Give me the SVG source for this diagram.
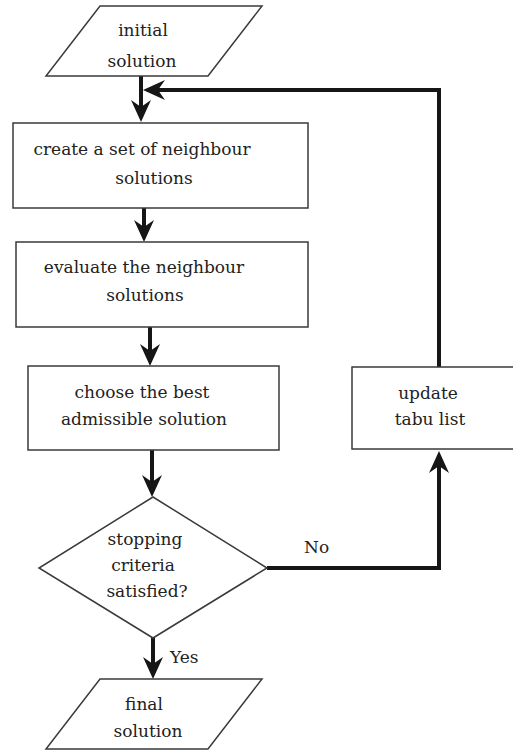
<svg xmlns="http://www.w3.org/2000/svg" width="513" height="752" viewBox="0 0 513 752">
<style>
.node{fill:#fff;stroke:#3a3a3a;stroke-width:1.5}
.lbl{font-family:'DejaVu Serif',serif;font-size:17px;fill:#222;text-anchor:middle}
.lbl2{font-family:'DejaVu Serif',serif;font-size:17px;fill:#222}
.conn{fill:none;stroke:#161616;stroke-width:4}
</style>
<defs>
<marker id="ah" viewBox="0 0 22 20" refX="10" refY="10" markerWidth="22" markerHeight="20" markerUnits="userSpaceOnUse" orient="auto">
<path d="M0,0 L22,10 L0,20 L7,10 z" fill="#161616"/>
</marker>
</defs>
<rect width="513" height="752" fill="#fff"/>
<g id="connectors">
<path class="conn" d="M141,76 V110" marker-end="url(#ah)"/>
<path class="conn" d="M439,367 V90 H155" marker-end="url(#ah)"/>
<path class="conn" d="M144,208 V230" marker-end="url(#ah)"/>
<path class="conn" d="M150,327 V354" marker-end="url(#ah)"/>
<path class="conn" d="M152,450 V485" marker-end="url(#ah)"/>
<path class="conn" d="M267,568 H439 V463" marker-end="url(#ah)"/>
<path class="conn" d="M153,638 V667" marker-end="url(#ah)"/>
</g>
<g id="initial">
<polygon class="node" points="100,6 262,6 208,76 46,76"/>
<text class="lbl" x="143" y="36">initial</text>
<text class="lbl" x="142" y="67">solution</text>
</g>
<g id="create">
<rect class="node" x="13" y="123" width="295" height="85"/>
<text class="lbl" x="142" y="155">create a set of neighbour</text>
<text class="lbl" x="154" y="184">solutions</text>
</g>
<g id="evaluate">
<rect class="node" x="16" y="242" width="292" height="85"/>
<text class="lbl" x="144" y="273">evaluate the neighbour</text>
<text class="lbl" x="145" y="301">solutions</text>
</g>
<g id="choose">
<rect class="node" x="28" y="366" width="251" height="84"/>
<text class="lbl" x="142" y="398">choose the best</text>
<text class="lbl" x="144" y="425">admissible solution</text>
</g>
<g id="update">
<rect class="node" x="352" y="367" width="162" height="82"/>
<text class="lbl" x="428" y="399">update</text>
<text class="lbl" x="430" y="425">tabu list</text>
</g>
<g id="decision">
<polygon class="node" points="153,497 267,568 153,638 39,568"/>
<text class="lbl" x="145" y="545">stopping</text>
<text class="lbl" x="143" y="571">criteria</text>
<text class="lbl" x="147" y="597">satisfied?</text>
</g>
<g id="final">
<polygon class="node" points="100,679 262,679 208,749 46,749"/>
<text class="lbl" x="144" y="710">final</text>
<text class="lbl" x="148" y="737">solution</text>
</g>
<g id="edge-labels">
<text class="lbl2" x="304" y="553">No</text>
<text class="lbl2" x="170" y="663">Yes</text>
</g>
</svg>
